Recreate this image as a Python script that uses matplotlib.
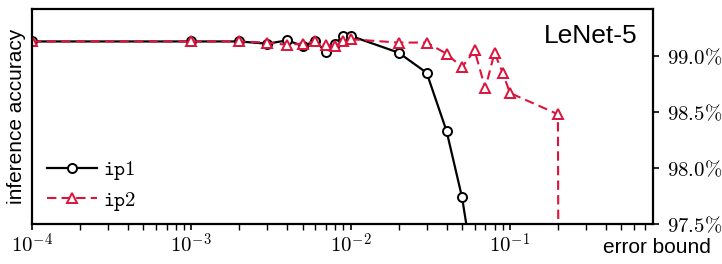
import numpy as np
import matplotlib
matplotlib.use("Agg")
import matplotlib.pyplot as plt
from matplotlib.ticker import FuncFormatter, LogLocator, NullFormatter

plt.rcParams["font.family"] = "Liberation Sans"
plt.rcParams["mathtext.fontset"] = "cm"

# error bounds and inference accuracy (%) for each layer setting
ip1_bound = [1e-4, 1e-3, 2e-3, 3e-3, 4e-3, 5e-3, 6e-3, 7e-3, 8e-3, 9e-3, 1e-2,
             2e-2, 3e-2, 4e-2, 5e-2, 6e-2]
ip1_acc = [99.13, 99.13, 99.13, 99.11, 99.14, 99.09, 99.13, 99.04, 99.11, 99.18, 99.18,
           99.03, 98.85, 98.33, 97.74, 97.03]

ip2_bound = [1e-4, 1e-3, 2e-3, 3e-3, 4e-3, 5e-3, 6e-3, 7e-3, 8e-3, 9e-3, 1e-2,
             2e-2, 3e-2, 4e-2, 5e-2, 6e-2, 7e-2, 8e-2, 9e-2, 1e-1, 2e-1, 3e-1]
ip2_acc = [99.13, 99.13, 99.13, 99.12, 99.10, 99.11, 99.13, 99.10, 99.09, 99.13, 99.15,
           99.12, 99.12, 99.02, 98.90, 99.05, 98.71, 99.03, 98.85, 98.67, 98.48, 11.35]

yticks = [97.5, 98.0, 98.5, 99.0]
CRIMSON = "#dc143c"

fig = plt.figure(figsize=(7.22, 2.64), dpi=100)
ax = fig.add_axes([0.0443, 0.1515, 0.8601, 0.8145])

ax.plot(ip1_bound, ip1_acc, color="black", lw=1.6, marker="o", ms=6.5,
        mfc="white", mec="black", mew=1.4, label=r"$\mathtt{ip1}$")
ax.plot(ip2_bound, ip2_acc, color=CRIMSON, lw=1.5, ls=(0, (4.5, 2.5)), marker="^",
        ms=6.5, mfc="white", mec=CRIMSON, mew=1.4, label=r"$\mathtt{ip2}$")

ax.set_xscale("log")
ax.set_xlim(1e-4, 0.79)
ax.set_ylim(97.5, 99.42)

ax.yaxis.tick_right()
ax.yaxis.set_label_position("left")
ax.set_yticks(yticks)
ax.yaxis.set_major_formatter(FuncFormatter(lambda v, p: r"$%.1f\%%$" % v))
ax.xaxis.set_major_locator(LogLocator(base=10, numticks=10))
ax.xaxis.set_minor_locator(LogLocator(base=10, subs=np.arange(2, 10), numticks=20))
ax.xaxis.set_major_formatter(
    FuncFormatter(lambda v, p: r"$10^{%d}$" % int(round(np.log10(v)))))
ax.xaxis.set_minor_formatter(NullFormatter())

ax.tick_params(axis="both", which="major", labelsize=15, length=4, width=1.2,
               direction="out")
ax.tick_params(axis="x", which="minor", length=4, width=1.0, direction="out")
ax.tick_params(axis="x", which="major", pad=2)
ax.tick_params(axis="y", which="major", pad=6)

for s in ax.spines.values():
    s.set_linewidth(1.6)

ax.set_ylabel("inference accuracy", fontsize=15, labelpad=4)
fig.text(0.985, 0.025, "error bound", fontsize=15, ha="right", va="bottom")
ax.text(0.975, 0.93, "LeNet-5", transform=ax.transAxes, fontsize=19,
        ha="right", va="top")

leg = ax.legend(loc="lower left", frameon=False, fontsize=15, handlelength=2.4,
                handletextpad=0.3, borderaxespad=0.3, labelspacing=0.35,
                bbox_to_anchor=(0.0, -0.015))

fig.savefig("out.png", dpi=100)
